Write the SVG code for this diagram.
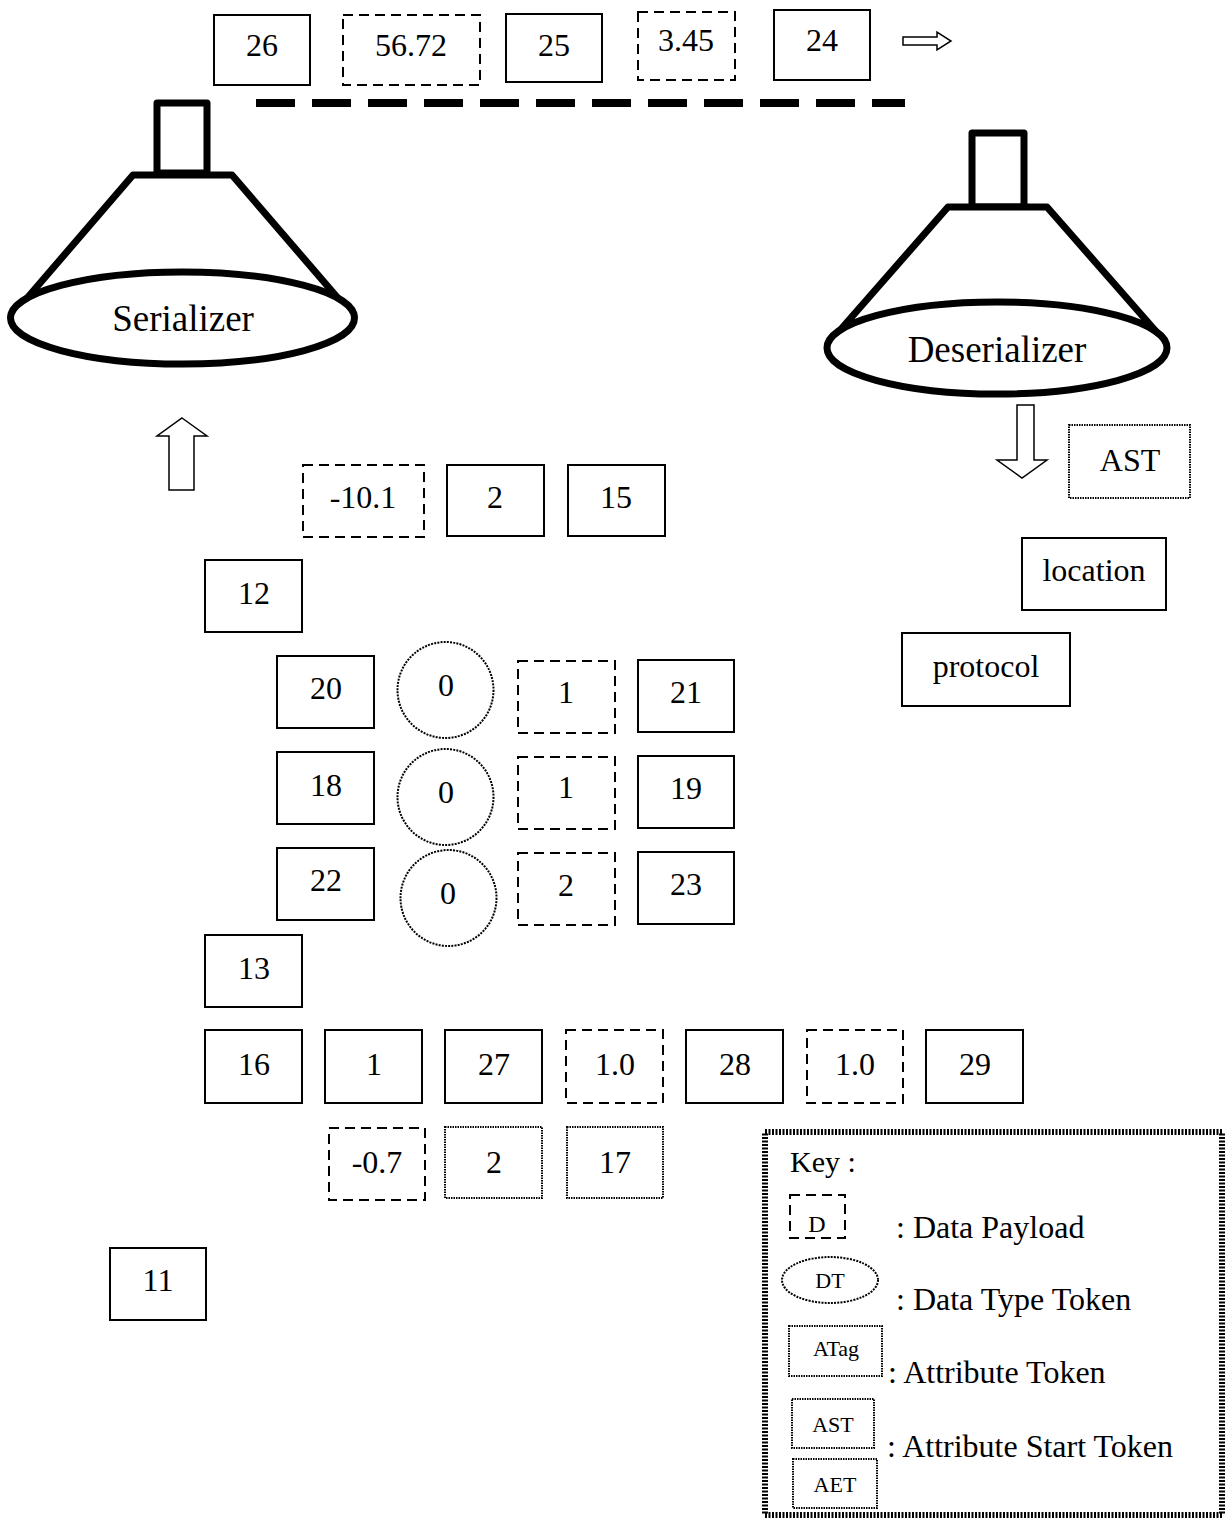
<svg xmlns="http://www.w3.org/2000/svg" width="1225" height="1519" viewBox="0 0 1225 1519">
<style>
.s{fill:#fff;stroke:#000;stroke-width:2}
.d{fill:#fff;stroke:#000;stroke-width:2;stroke-dasharray:10 6}
.o{fill:#fff;stroke:#000;stroke-width:2;stroke-dasharray:1.5 1}
.c{fill:#fff;stroke:#000;stroke-width:2;stroke-dasharray:2 1.2}
.t{font-family:"Liberation Serif","Times New Roman",serif;font-size:32px;fill:#000;text-anchor:middle}
.k{font-family:"Liberation Serif","Times New Roman",serif;font-size:32px;fill:#000}
.sm{font-family:"Liberation Serif","Times New Roman",serif;font-size:22px;fill:#000;text-anchor:middle}
.f{fill:#fff;stroke:#000;stroke-width:7;stroke-linejoin:round}
.ar{fill:#fff;stroke:#000;stroke-width:1.5}
</style>
<rect width="1225" height="1519" fill="#fff"/>

<g id="serializer">
<rect class="f" x="157" y="103" width="50" height="70"/>
<path class="f" d="M 10 318 L 133 175 L 232 175 L 355 318"/>
<ellipse class="f" cx="182.5" cy="318" rx="172" ry="46"/>
<text class="t" x="183" y="331" style="font-size:37px">Serializer</text>
</g>

<g id="deserializer">
<rect class="f" x="972" y="133" width="52" height="74"/>
<path class="f" d="M 835 336 L 948 207 L 1047 207 L 1160 336"/>
<ellipse class="f" cx="997" cy="348" rx="170" ry="46"/>
<text class="t" x="997" y="362" style="font-size:37px">Deserializer</text>
</g>

<g id="connectors">
<line x1="256" y1="103" x2="905" y2="103" stroke="#000" stroke-width="8" stroke-dasharray="39 17"/>
<polygon class="ar" points="903,37 937,37 937,32 951,41 937,50 937,45 903,45"/>
<polygon class="ar" points="182,418 207,436 194,436 194,490 169,490 169,436 157,436"/>
<polygon class="ar" points="1017,405 1034,405 1034,460 1047,460 1022,478 997,460 1017,460"/>
</g>

<g id="n26"><rect class="s" x="214" y="15" width="96" height="70"/><text class="t" x="262" y="56">26</text></g>
<g id="n56_72"><rect class="d" x="343" y="15" width="137" height="70"/><text class="t" x="411" y="56">56.72</text></g>
<g id="n25"><rect class="s" x="506" y="14" width="96" height="68"/><text class="t" x="554" y="56">25</text></g>
<g id="n3_45"><rect class="d" x="638" y="12" width="97" height="68"/><text class="t" x="686" y="51">3.45</text></g>
<g id="n24"><rect class="s" x="774" y="10" width="96" height="70"/><text class="t" x="822" y="51">24</text></g>

<g id="nm10_1"><rect class="d" x="303" y="465" width="121" height="72"/><text class="t" x="363" y="508">-10.1</text></g>
<g id="n2a"><rect class="s" x="447" y="465" width="97" height="71"/><text class="t" x="495" y="508">2</text></g>
<g id="n15"><rect class="s" x="568" y="465" width="97" height="71"/><text class="t" x="616" y="508">15</text></g>
<g id="n12"><rect class="s" x="205" y="560" width="97" height="72"/><text class="t" x="254" y="604">12</text></g>

<g id="n20"><rect class="s" x="277" y="656" width="97" height="72"/><text class="t" x="326" y="699">20</text></g>
<g id="c0a"><circle class="c" cx="445.5" cy="690" r="48"/><text class="t" x="446" y="696">0</text></g>
<g id="p1a"><rect class="d" x="518" y="661" width="97" height="72"/><text class="t" x="566" y="703">1</text></g>
<g id="n21"><rect class="s" x="638" y="660" width="96" height="72"/><text class="t" x="686" y="703">21</text></g>

<g id="n18"><rect class="s" x="277" y="752" width="97" height="72"/><text class="t" x="326" y="796">18</text></g>
<g id="c0b"><circle class="c" cx="445.5" cy="797" r="48"/><text class="t" x="446" y="803">0</text></g>
<g id="p1b"><rect class="d" x="518" y="757" width="97" height="72"/><text class="t" x="566" y="798">1</text></g>
<g id="n19"><rect class="s" x="638" y="756" width="96" height="72"/><text class="t" x="686" y="799">19</text></g>

<g id="n22"><rect class="s" x="277" y="848" width="97" height="72"/><text class="t" x="326" y="891">22</text></g>
<g id="c0c"><circle class="c" cx="448.5" cy="898" r="48"/><text class="t" x="448" y="904">0</text></g>
<g id="p2"><rect class="d" x="518" y="853" width="97" height="72"/><text class="t" x="566" y="896">2</text></g>
<g id="n23"><rect class="s" x="638" y="852" width="96" height="72"/><text class="t" x="686" y="895">23</text></g>

<g id="n13"><rect class="s" x="205" y="935" width="97" height="72"/><text class="t" x="254" y="979">13</text></g>

<g id="n16"><rect class="s" x="205" y="1030" width="97" height="73"/><text class="t" x="254" y="1075">16</text></g>
<g id="n1"><rect class="s" x="325" y="1030" width="97" height="73"/><text class="t" x="374" y="1075">1</text></g>
<g id="n27"><rect class="s" x="445" y="1030" width="97" height="73"/><text class="t" x="494" y="1075">27</text></g>
<g id="p1_0a"><rect class="d" x="566" y="1030" width="97" height="73"/><text class="t" x="615" y="1075">1.0</text></g>
<g id="n28"><rect class="s" x="686" y="1030" width="97" height="73"/><text class="t" x="735" y="1075">28</text></g>
<g id="p1_0b"><rect class="d" x="807" y="1030" width="96" height="73"/><text class="t" x="855" y="1075">1.0</text></g>
<g id="n29"><rect class="s" x="926" y="1030" width="97" height="73"/><text class="t" x="975" y="1075">29</text></g>

<g id="pm0_7"><rect class="d" x="329" y="1128" width="96" height="72"/><text class="t" x="377" y="1173">-0.7</text></g>
<g id="a2"><rect class="o" x="445" y="1127" width="97" height="71"/><text class="t" x="494" y="1173">2</text></g>
<g id="a17"><rect class="o" x="567" y="1127" width="96" height="71"/><text class="t" x="615" y="1173">17</text></g>

<g id="n11"><rect class="s" x="110" y="1248" width="96" height="72"/><text class="t" x="158" y="1291">11</text></g>

<g id="ast"><rect class="o" x="1069" y="425" width="121" height="73"/><text class="t" x="1130" y="471">AST</text></g>
<g id="location"><rect class="s" x="1022" y="538" width="144" height="72"/><text class="t" x="1094" y="581">location</text></g>
<g id="protocol"><rect class="s" x="902" y="633" width="168" height="73"/><text class="t" x="986" y="677">protocol</text></g>

<g id="key">
<rect x="765" y="1132" width="457" height="383" fill="#fff" stroke="#000" stroke-width="6" stroke-dasharray="2 1.5"/>
<text class="k" x="790" y="1172" style="font-size:30px">Key :</text>
<rect class="d" x="790" y="1195" width="55" height="43"/>
<text class="sm" x="817" y="1232" style="font-size:24px">D</text>
<text class="k" x="896" y="1238">: Data Payload</text>
<ellipse class="c" cx="830" cy="1280" rx="48" ry="23"/>
<text class="sm" x="830" y="1288">DT</text>
<text class="k" x="896" y="1310">: Data Type Token</text>
<rect class="o" x="789" y="1326" width="93" height="50"/>
<text class="sm" x="836" y="1356">ATag</text>
<text class="k" x="888" y="1383">: Attribute Token</text>
<rect class="o" x="792" y="1399" width="82" height="49"/>
<text class="sm" x="833" y="1432">AST</text>
<text class="k" x="887" y="1457">: Attribute Start Token</text>
<rect class="o" x="793" y="1459" width="84" height="49"/>
<text class="sm" x="835" y="1492">AET</text>
</g>
</svg>
